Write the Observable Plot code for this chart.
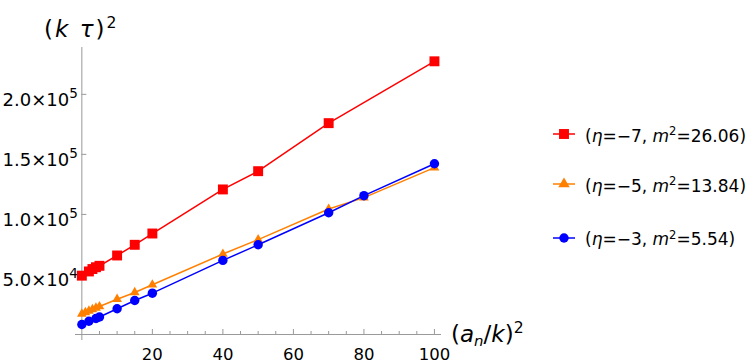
<!DOCTYPE html>
<html><head><meta charset="utf-8">
<script src="https://cdn.jsdelivr.net/npm/d3@7"></script>
<script src="https://cdn.jsdelivr.net/npm/@observablehq/plot@0.6"></script>
<style>
body{margin:0;background:#fff;}
#wrap{position:relative;width:747px;height:363px;font-family:"DejaVu Sans",sans-serif;color:#000;}
.lab{position:absolute;white-space:nowrap;}
.sup{position:relative;font-size:0.68em;top:-0.55em;}
.sub{position:relative;font-size:0.65em;top:0.3em;}
.legtxt{position:absolute;white-space:nowrap;font-size:17px;line-height:17px;}
.legsym{position:absolute;}
</style></head><body><div id="wrap"></div>
<script>
// ---- data ----
const xRed = [0, 2, 3, 4, 5, 10, 15, 20, 40, 50, 70, 100];
const yRed = [49000, 52500, 54500, 56000, 57200, 65800, 74700, 84100, 120800, 136000, 176000, 227500];
const xOrange = [0, 1, 2, 3, 4, 5, 10, 15, 20, 40, 50, 70, 80, 100];
const yOrange = [17200, 18400, 19600, 20900, 22100, 23300, 29400, 35000, 41400, 67000, 79000, 104500, 114000, 139000];
const xBlue = [0, 2, 4, 5, 10, 15, 20, 40, 50, 70, 80, 100];
const yBlue = [8300, 11000, 13300, 14600, 21400, 28300, 34400, 61700, 74700, 101400, 115600, 142200];
const seriesLabels = ["(<i>η</i>=−7, <i>m</i><span class='sup'>2</span>=26.06)",
                      "(<i>η</i>=−5, <i>m</i><span class='sup'>2</span>=13.84)",
                      "(<i>η</i>=−3, <i>m</i><span class='sup'>2</span>=5.54)"];
const xMajorTicks = [20, 40, 60, 80, 100];
const xMinorTicks = [5, 10, 15, 25, 30, 35, 45, 50, 55, 65, 70, 75, 85, 90, 95];
const yTicks = [50000, 100000, 150000, 200000];
const yTickMantissa = ["5.0×10", "1.0×10", "1.5×10", "2.0×10"];
const yTickExponent = ["4", "5", "5", "5"];

const colors = ["#ff0000", "#ff8000", "#0000ff"];
const symbols = ["square", "triangle", "circle"];
const radii = [5.6, 3.6, 4.7];
const series = [
  xRed.map((x, i) => ({x, y: yRed[i]})),
  xOrange.map((x, i) => ({x, y: yOrange[i]})),
  xBlue.map((x, i) => ({x, y: yBlue[i]}))
];

const axisColor = "#999";
const marks = [
  Plot.ruleY([0], {stroke: axisColor, strokeWidth: 1}),
  Plot.ruleX([0], {stroke: axisColor, strokeWidth: 1}),
  Plot.ruleX(xMajorTicks, {x: d => d, y1: 0, y2: 0, insetTop: -5, stroke: axisColor}),
  Plot.ruleX(xMinorTicks, {x: d => d, y1: 0, y2: 0, insetTop: -3, stroke: axisColor}),
  Plot.ruleY(yTicks, {y: d => d, x1: 0, x2: 0, insetRight: -5, stroke: axisColor}),
  Plot.text(xMajorTicks, {x: d => d, y: 0, dy: 20, text: d => String(d), fontSize: 16.5, fill: "#000", fontFamily: "DejaVu Sans"}),
  Plot.text(yTicks, {x: 0, y: d => d, dx: -12.7, dy: 6, text: (d, i) => yTickMantissa[i], textAnchor: "end", fontSize: 18, fill: "#000", fontFamily: "DejaVu Sans"}),
  Plot.text(yTicks, {x: 0, y: d => d, dx: -12.5, dy: -0.5, text: (d, i) => yTickExponent[i], textAnchor: "start", fontSize: 13.5, fill: "#000", fontFamily: "DejaVu Sans"})
];
series.forEach((s, k) => {
  marks.push(Plot.line(s, {x: "x", y: "y", stroke: colors[k], strokeWidth: 1.5}));
  marks.push(Plot.dot(s, {x: "x", y: "y", fill: colors[k], symbol: symbols[k], r: radii[k], stroke: "none"}));
});

const chart = Plot.plot({
  width: 747, height: 363,
  marginLeft: 75, marginRight: 306, marginTop: 47, marginBottom: 23,
  x: {domain: [-1.8, 102], axis: null},
  y: {domain: [-5000, 239000], axis: null},
  style: {background: "#fff", overflow: "visible"},
  marks
});
const wrap = document.getElementById("wrap");
wrap.appendChild(chart);

// axis labels
const yl = document.createElement("div");
yl.className = "lab";
yl.style.cssText = "left:44px;top:18px;font-size:23px;line-height:23px;letter-spacing:2px;";
yl.innerHTML = "(<i>k</i>&nbsp;<i>τ</i>)<span class='sup'>2</span>";
wrap.appendChild(yl);
const xl = document.createElement("div");
xl.className = "lab";
xl.style.cssText = "left:451px;top:323px;font-size:23px;line-height:23px;";
xl.innerHTML = "(<i>a</i><span class='sub'><i>n</i></span>/<i>k</i>)<span class='sup'>2</span>";
wrap.appendChild(xl);

// legend
const legY = [134, 184, 237.5];
const ns = "http://www.w3.org/2000/svg";
legY.forEach((cy, k) => {
  const svg = document.createElementNS(ns, "svg");
  svg.setAttribute("width", 26); svg.setAttribute("height", 16);
  svg.setAttribute("class", "legsym");
  svg.style.left = "551px"; svg.style.top = (cy - 8) + "px";
  const ln = document.createElementNS(ns, "line");
  ln.setAttribute("x1", 2); ln.setAttribute("x2", 24); ln.setAttribute("y1", 8); ln.setAttribute("y2", 8);
  ln.setAttribute("stroke", colors[k]); ln.setAttribute("stroke-width", 1.5);
  svg.appendChild(ln);
  const p = document.createElementNS(ns, "path");
  p.setAttribute("d", d3.symbol(k === 0 ? d3.symbolSquare : k === 1 ? d3.symbolTriangle : d3.symbolCircle, Math.PI * radii[k] * radii[k] * (k === 1 ? 1.4 : 1))());
  p.setAttribute("transform", "translate(13,8)");
  p.setAttribute("fill", colors[k]);
  svg.appendChild(p);
  wrap.appendChild(svg);
  const t = document.createElement("div");
  t.className = "legtxt";
  t.style.left = "585px"; t.style.top = (cy - 6.4) + "px";
  t.innerHTML = seriesLabels[k];
  wrap.appendChild(t);
});
</script></body></html>
